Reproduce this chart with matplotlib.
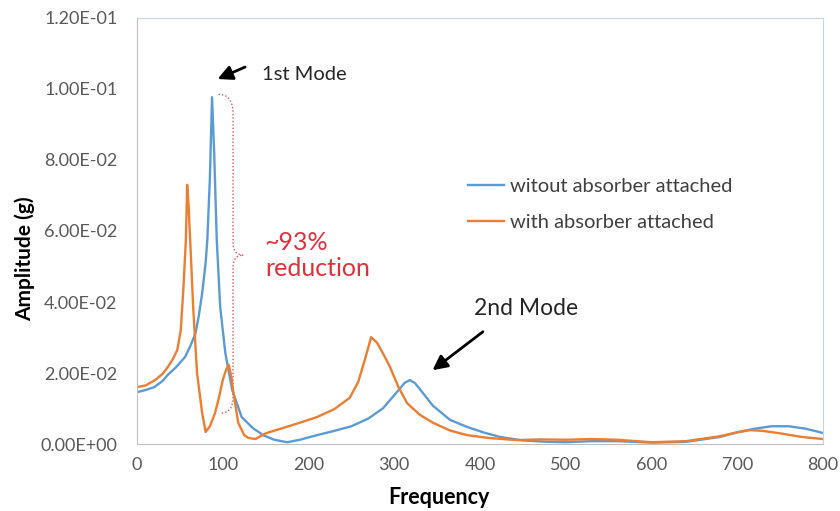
import matplotlib
matplotlib.use("Agg")
import matplotlib.pyplot as plt
from matplotlib.path import Path
from matplotlib.patches import PathPatch
from matplotlib.ticker import FuncFormatter

plt.rcParams['font.family'] = ['Lato', 'DejaVu Sans']

# 吸振器なし
freq_without = [0, 10, 20, 30, 36, 45, 56, 62, 68, 72, 76, 80, 82, 85, 87.5, 90, 93, 97,
                103, 111, 122, 135, 147, 160, 175, 190, 210, 230, 250, 270, 287, 303,
                312, 318, 324, 333, 345, 365, 385, 405, 423, 450, 480, 500, 530, 560,
                600, 640, 680, 700, 720, 740, 760, 780, 800]
amp_without = [0.0146, 0.0152, 0.016, 0.0178, 0.0195, 0.0215, 0.0245, 0.0275, 0.031,
               0.036, 0.0425, 0.051, 0.0575, 0.075, 0.0977, 0.082, 0.0575, 0.0386,
               0.0256, 0.0152, 0.0076, 0.0045, 0.0025, 0.0012, 0.0005, 0.0012, 0.0025,
               0.0037, 0.005, 0.0072, 0.0101, 0.0146, 0.0172, 0.018, 0.0172, 0.0145,
               0.0108, 0.0068, 0.0048, 0.0032, 0.002, 0.001, 0.0006, 0.0005, 0.0008,
               0.0008, 0.0004, 0.0006, 0.002, 0.0033, 0.0043, 0.005, 0.005, 0.0043,
               0.0031]

# 吸振器あり
freq_with = [0, 10, 21, 30, 36, 42, 47, 51, 54, 57, 58.5, 60, 62, 65.5, 70, 76, 80, 85,
             91, 96, 100, 104, 107, 110, 112, 118, 125, 130, 138, 150, 170, 190, 210,
             230, 248, 258, 266, 273, 280, 288, 295, 305, 315, 330, 345, 365, 385, 410,
             443, 470, 500, 530, 560, 600, 640, 680, 700, 715, 730, 750, 775, 800]
amp_with = [0.016, 0.0165, 0.018, 0.0198, 0.0217, 0.024, 0.0265, 0.032, 0.0434, 0.0575,
            0.073, 0.068, 0.0575, 0.0386, 0.02, 0.0087, 0.0034, 0.005, 0.0087, 0.0135,
            0.018, 0.021, 0.0223, 0.019, 0.0152, 0.006, 0.0025, 0.0017, 0.0014, 0.003,
            0.0045, 0.006, 0.0076, 0.0098, 0.013, 0.0175, 0.024, 0.0301, 0.0285, 0.025,
            0.0217, 0.016, 0.0115, 0.0082, 0.006, 0.0038, 0.0025, 0.0017, 0.0011,
            0.0013, 0.0012, 0.0014, 0.0012, 0.0005, 0.0008, 0.0022, 0.0033, 0.0039,
            0.0037, 0.003, 0.002, 0.0014]

labels = ["witout absorber attached", "with absorber attached"]
x_ticks = list(range(0, 801, 100))
y_ticks = [0, 0.02, 0.04, 0.06, 0.08, 0.10, 0.12]

fig = plt.figure(figsize=(8.4, 5.11), dpi=100)
ax = fig.add_axes([0.1631, 0.1311, 0.8167, 0.8337])

ax.plot(freq_without, amp_without, color="#5b9bd5", lw=1.7, label=labels[0])
ax.plot(freq_with, amp_with, color="#ed7d31", lw=1.7, label=labels[1])

ax.set_xlim(0, 800)
ax.set_ylim(0, 0.12)
ax.set_xticks(x_ticks)
ax.set_yticks(y_ticks)
ax.yaxis.set_major_formatter(FuncFormatter(lambda v, p: "%.2E" % v))
ax.tick_params(length=0, labelsize=13, labelcolor="#595959")
ax.tick_params(axis="y", pad=14)
ax.tick_params(axis="x", pad=9)

for s in ["left", "bottom"]:
    ax.spines[s].set_color("#bfbfbf")
for s in ["top", "right"]:
    ax.spines[s].set_color("#c5d5e6")

ax.set_xlabel("Frequency", fontsize=15.5, fontweight="bold")
ax.xaxis.set_label_coords(0.44, -0.102)
ax.set_ylabel("Amplitude (g)", fontsize=15, fontweight="bold")
ax.yaxis.set_label_coords(-0.149, 0.434)

ax.legend(loc="center left", bbox_to_anchor=(0.468, 0.563), frameon=False,
          fontsize=14.5, handlelength=1.8, handletextpad=0.3, labelspacing=0.95,
          borderpad=0, labelcolor="#404040")

# 注釈
arrow = dict(arrowstyle="-|>", color="black", lw=2, mutation_scale=22)
ax.annotate("", xy=(91, 0.1025), xytext=(129, 0.1065), arrowprops=arrow)
ax.text(146, 0.104, "1st Mode", fontsize=14.5, va="center", color="#262626")
ax.annotate("", xy=(342, 0.0203), xytext=(406, 0.0321), arrowprops=arrow)
ax.text(393, 0.0383, "2nd Mode", fontsize=16.5, va="center", color="#262626")

ax.text(149, 0.053, "~93%\nreduction", fontsize=18, va="center", color="#e0303c",
        linespacing=1.15)

# 中括弧
verts = [(95, 0.0985), (112, 0.0985), (112, 0.093),
         (112, 0.0565),
         (112, 0.0532), (124, 0.0532),
         (112, 0.0532), (112, 0.0499),
         (112, 0.013),
         (112, 0.0087), (97, 0.0087)]
codes = [Path.MOVETO, Path.CURVE3, Path.CURVE3,
         Path.LINETO,
         Path.CURVE3, Path.CURVE3,
         Path.CURVE3, Path.CURVE3,
         Path.LINETO,
         Path.CURVE3, Path.CURVE3]
ax.add_patch(PathPatch(Path(verts, codes), fill=False, ec="#e05060", lw=1,
                       ls=(0, (1, 1.5))))

fig.savefig("out.png", dpi=100)
